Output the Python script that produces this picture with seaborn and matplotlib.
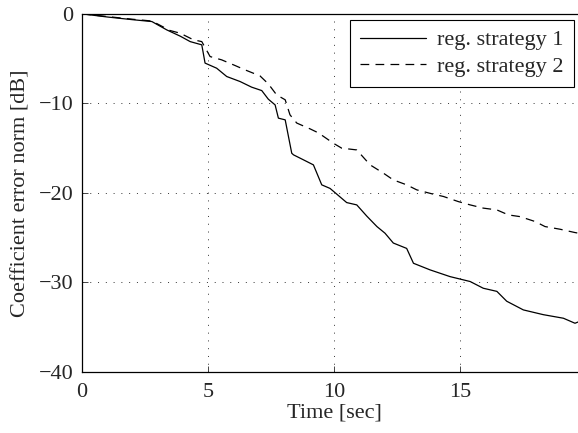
import pandas as pd
import matplotlib
matplotlib.use("Agg")
import matplotlib.pyplot as plt
import seaborn as sns

# curva estrategia 1 (linea continua)
t1 = [0, 1.0, 2.0, 2.77, 3.36, 3.9, 4.29, 4.75, 4.88, 5.34, 5.74, 6.27, 6.73,
      7.13, 7.39, 7.66, 7.79, 8.06, 8.32, 8.39, 8.78, 9.18, 9.51, 9.84, 10.5,
      10.9, 11.3, 11.7, 12.02, 12.35, 12.88, 13.15, 13.81, 14.6, 15.4, 15.92,
      16.46, 16.85, 17.51, 18.3, 19.1, 19.56, 19.7]
e1 = [0, -0.35, -0.65, -0.86, -1.79, -2.5, -3.1, -3.46, -5.5, -6.07, -7.0,
      -7.56, -8.19, -8.57, -9.53, -10.17, -11.65, -11.84, -15.57, -15.75, -16.3,
      -16.87, -19.1, -19.5, -21.08, -21.34, -22.6, -23.76, -24.5, -25.6, -26.2,
      -27.86, -28.6, -29.35, -29.9, -30.65, -31.0, -32.1, -33.07, -33.6, -34.0,
      -34.56, -34.4]

# curva estrategia 2 (linea discontinua)
t2 = [0, 1.0, 2.0, 2.77, 3.49, 3.89, 4.42, 4.75, 5.08, 5.54, 6.07, 6.47, 7.06,
      7.39, 7.72, 8.06, 8.25, 8.52, 9.05, 9.38, 9.97, 10.3, 10.9, 11.43, 11.96,
      12.35, 12.88, 13.28, 13.88, 14.34, 14.93, 15.4, 15.92, 16.46, 16.92, 17.38,
      17.98, 18.37, 18.97, 19.56, 19.7]
e2 = [0, -0.3, -0.6, -0.8, -1.86, -2.16, -2.9, -3.1, -4.77, -5.14, -5.77,
      -6.26, -6.93, -7.82, -9.05, -9.6, -11.28, -12.2, -12.85, -13.3, -14.45,
      -15.0, -15.2, -16.87, -17.8, -18.55, -19.1, -19.66, -20.1, -20.4, -20.97,
      -21.34, -21.7, -21.9, -22.46, -22.65, -23.2, -23.76, -24.06, -24.43, -24.5]

labels = ["reg. strategy 1", "reg. strategy 2"]
x_ticks = [0, 5, 10, 15]
y_ticks = [0, -10, -20, -30, -40]

sns.set_style("ticks")
plt.rcParams["font.family"] = ["Liberation Serif", "DejaVu Serif"]
fs = 16

fig = plt.figure(figsize=(5.78, 4.33), dpi=100)
ax = fig.add_axes([0.142, 0.141, 0.872, 0.827])

df1 = pd.DataFrame({"t": t1, "e": e1})
df2 = pd.DataFrame({"t": t2, "e": e2})
sns.lineplot(data=df1, x="t", y="e", ax=ax, color="black", lw=0.9, label=labels[0])
sns.lineplot(data=df2, x="t", y="e", ax=ax, color="black", lw=0.9, label=labels[1])
ax.lines[1].set_dashes((7, 5))

ax.set_xlim(0, 20)
ax.set_ylim(-40, 0)
ax.set_xticks(x_ticks)
ax.set_yticks(y_ticks)
ax.tick_params(direction="in", length=4, width=0.6, labelsize=fs)
ax.tick_params(axis="y", pad=6)
ax.tick_params(axis="x", pad=8)
ax.grid(True, linestyle=(0, (1, 7)), color="#333333", linewidth=0.7)
for s in ax.spines.values():
    s.set_linewidth(0.9)
    s.set_color("black")

ax.set_xlabel("Time [sec]", fontsize=fs, labelpad=1)
ax.set_ylabel("Coefficient error norm [dB]", fontsize=fs, labelpad=6)

leg = ax.legend(loc="upper right", bbox_to_anchor=(0.976, 0.983), borderaxespad=0,
                fancybox=False, framealpha=1, edgecolor="black", fontsize=fs,
                handlelength=3.0, borderpad=0.45, labelspacing=0.28,
                handletextpad=0.5)
leg.get_frame().set_linewidth(0.8)

fig.savefig("out.png", dpi=100)
